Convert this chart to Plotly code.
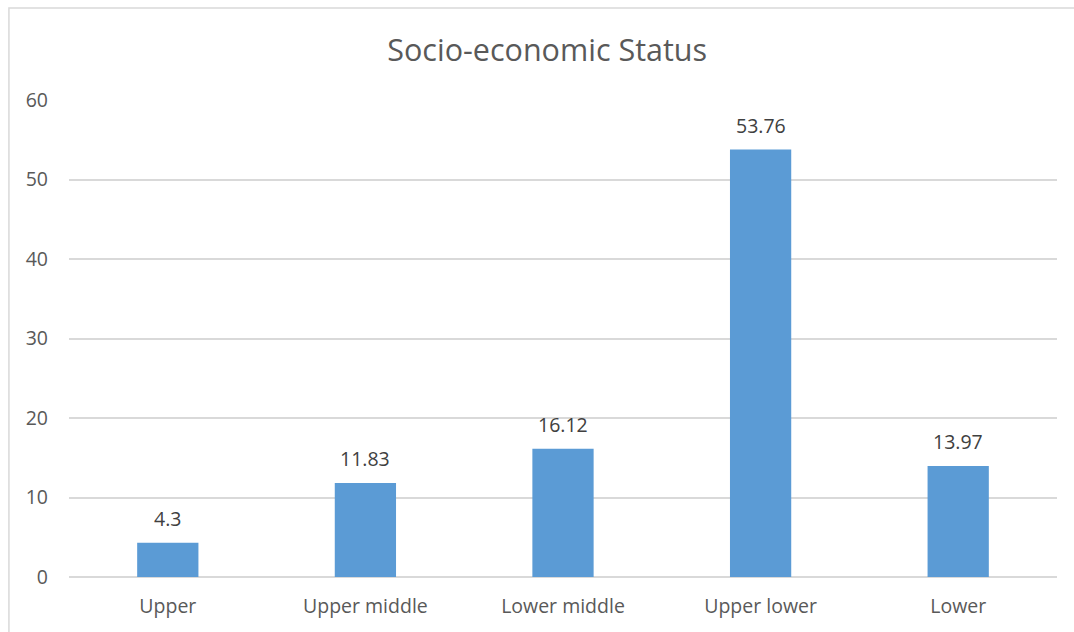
import plotly.graph_objects as go

# Share of respondents by socio-economic status
categories = ["Upper", "Upper middle", "Lower middle", "Upper lower", "Lower"]
values = [4.3, 11.83, 16.12, 53.76, 13.97]
y_ticks = [0, 10, 20, 30, 40, 50, 60]

FONT = "Open Sans"
TEXT_GREY = "#595959"
GRID = "#d9d9d9"
BAR = "#5b9bd5"

fig = go.Figure(
    go.Bar(
        x=categories,
        y=values,
        marker=dict(color=BAR, line=dict(width=0)),
        hoverinfo="x+y",
    )
)

# value labels above each bar
for c, v in zip(categories, values):
    fig.add_annotation(
        x=c, y=v, text=f"{v:g}", showarrow=False,
        yanchor="bottom", yshift=9,
        font=dict(family=FONT, size=19.5, color="#404040"),
    )

# light frame around the chart area
fig.add_shape(
    type="rect", xref="paper", yref="paper",
    x0=-0.0608, x1=1.03, y0=-0.14, y1=1.1929,
    line=dict(color=GRID, width=1.5), layer="below",
)

fig.update_layout(
    width=1074, height=632,
    margin=dict(l=69, r=17, t=100, b=55),
    paper_bgcolor="white", plot_bgcolor="white",
    bargap=0.69,
    showlegend=False,
    title=dict(
        text="Socio-economic Status",
        xref="paper", x=0.484, xanchor="center",
        y=0.92, yanchor="middle",
        font=dict(family=FONT, size=30.5, color=TEXT_GREY),
    ),
    font=dict(family=FONT, color=TEXT_GREY),
)

fig.update_yaxes(
    range=[0, 60], tickvals=y_ticks,
    showgrid=True, gridcolor=GRID, gridwidth=1.5,
    zeroline=True, zerolinecolor=GRID, zerolinewidth=1.5,
    showline=False, ticks="",
    ticklabelstandoff=20,
    tickfont=dict(family=FONT, size=19.5, color=TEXT_GREY),
)
fig.update_xaxes(
    showgrid=False, showline=False, ticks="",
    ticklabelstandoff=15,
    tickfont=dict(family=FONT, size=19.5, color=TEXT_GREY),
)

fig.write_html("out.html")
